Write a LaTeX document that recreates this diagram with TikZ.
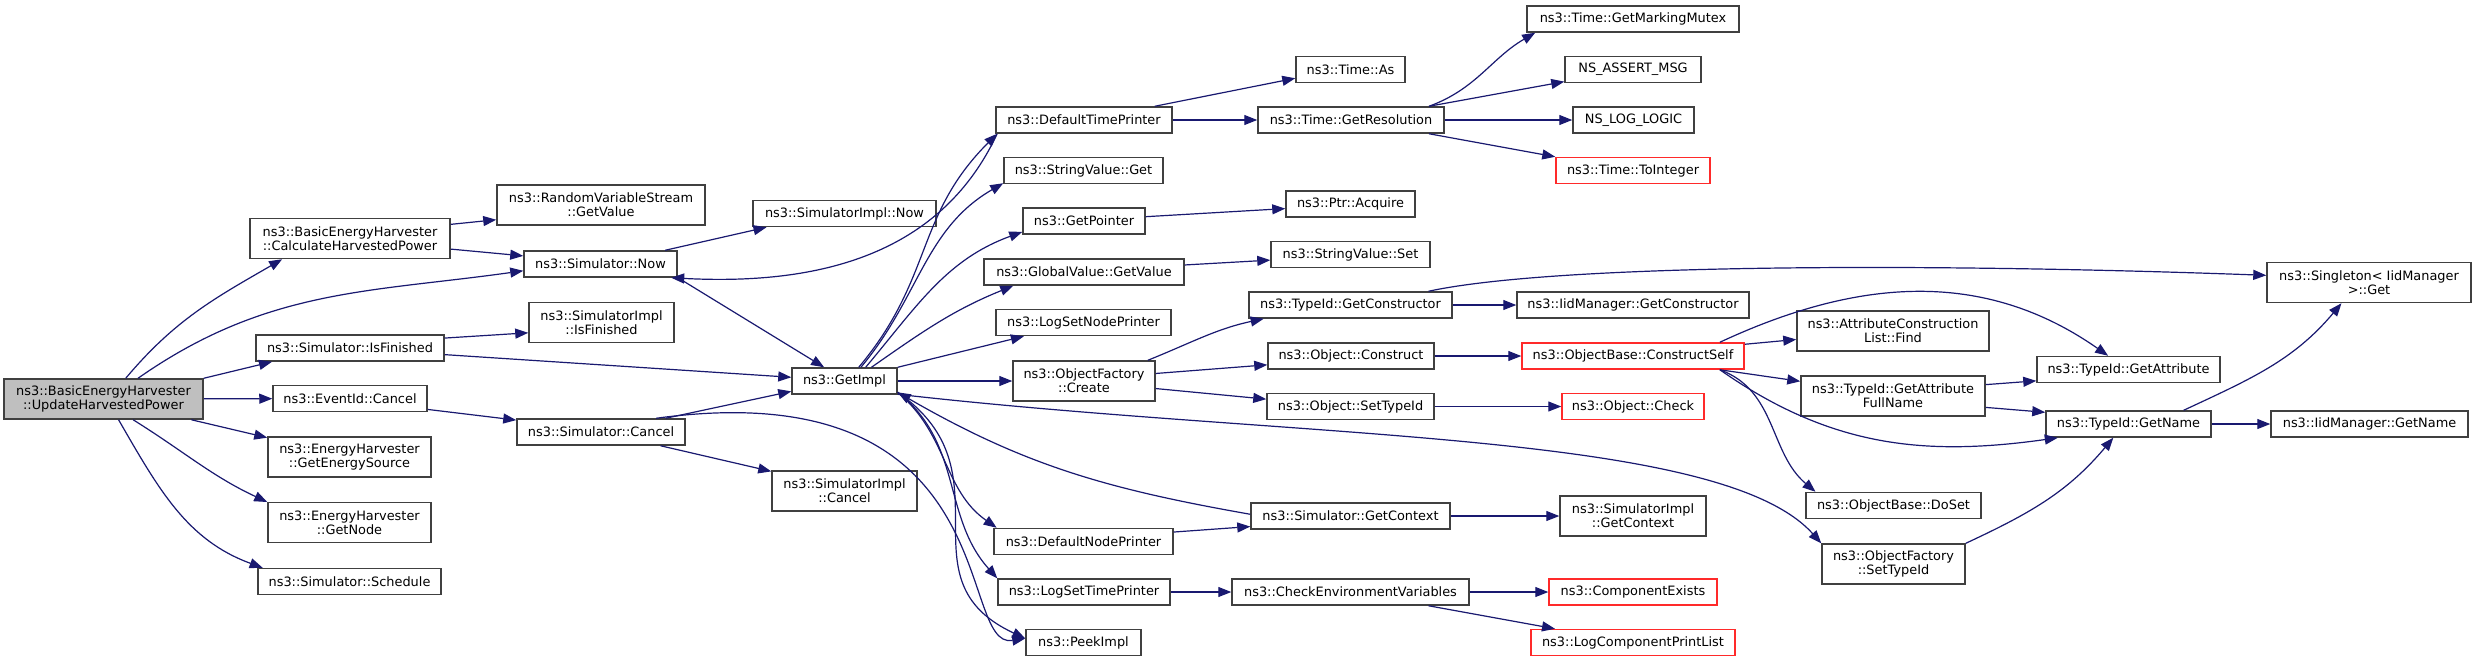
\documentclass[tikz,border=0pt]{standalone}
\usepackage{fontspec}
\setsansfont{DejaVu Sans}
\usepackage{tikz}
\usetikzlibrary{arrows.meta}
\definecolor{Edge}{HTML}{191970}
\definecolor{Frame}{HTML}{404040}
\definecolor{Trunc}{HTML}{FF2A2A}
\definecolor{Root}{HTML}{BFBFBF}

\begin{document}
\begin{tikzpicture}[x=0.5pt,y=-0.5pt, every node/.style={font=\sffamily\fontsize{6.45}{7.15}\selectfont}]
\tikzstyle{box}=[draw=Frame,fill=white,line width=0.75pt,inner sep=0pt,minimum height=13pt,align=center]
\tikzstyle{box2}=[box,minimum height=20pt]
\tikzstyle{cut}=[draw=Trunc]
\tikzstyle{call}=[-{Triangle[length=6.5pt,width=5pt]},Edge,line width=0.6pt]
\fill[white] (0,0) rectangle (2476,661);
\useasboundingbox (0,0) rectangle (2476,661);

% caller and its direct callees
\node[box2,fill=Root,minimum width=99.5pt] (uhp) at (103.5,399) {ns3::BasicEnergyHarvester\\::UpdateHarvestedPower};
\node[box2,minimum width=100pt] (chp) at (350,238.5) {ns3::BasicEnergyHarvester\\::CalculateHarvestedPower};
\node[box,minimum width=94pt] (isfin) at (350,348) {ns3::Simulator::IsFinished};
\node[box,minimum width=77pt] (evc) at (350,398.5) {ns3::EventId::Cancel};
\node[box2,minimum width=81.5pt] (gsrc) at (349.5,457) {ns3::EnergyHarvester\\::GetEnergySource};
\node[box2,minimum width=81.5pt] (gnode) at (349.5,522.5) {ns3::EnergyHarvester\\::GetNode};
\node[box,minimum width=91.5pt] (sched) at (349.5,581.5) {ns3::Simulator::Schedule};

\node[box2,minimum width=104pt] (rvs) at (601,205) {ns3::RandomVariableStream\\::GetValue};
\node[box,minimum width=76.5pt] (now) at (600.5,264) {ns3::Simulator::Now};
\node[box2,minimum width=72.5pt] (sifin) at (601.5,322.5) {ns3::SimulatorImpl\\::IsFinished};
\node[box,minimum width=84pt] (scancel) at (601,432) {ns3::Simulator::Cancel};

\node[box,minimum width=91.5pt] (sinow) at (844.5,213.5) {ns3::SimulatorImpl::Now};
\node[box,minimum width=52.5pt] (getimpl) at (844.5,381) {ns3::GetImpl};
\node[box2,minimum width=72.5pt] (sicancel) at (844.5,491) {ns3::SimulatorImpl\\::Cancel};

\node[box,minimum width=88pt] (dtp) at (1084,120) {ns3::DefaultTimePrinter};
\node[box,minimum width=79.5pt] (svget) at (1083.5,170.5) {ns3::StringValue::Get};
\node[box,minimum width=61pt] (getptr) at (1084,221) {ns3::GetPointer};
\node[box,minimum width=100pt] (gvget) at (1084,272) {ns3::GlobalValue::GetValue};
\node[box,minimum width=87.5pt] (lsnp) at (1083.5,322.5) {ns3::LogSetNodePrinter};
\node[box2,minimum width=71pt] (ofcreate) at (1084,381) {ns3::ObjectFactory\\::Create};
\node[box,minimum width=89.5pt] (dnp) at (1083.5,541.5) {ns3::DefaultNodePrinter};
\node[box,minimum width=86pt] (lstp) at (1084,592) {ns3::LogSetTimePrinter};
\node[box,minimum width=57.5pt] (peek) at (1083.5,642.5) {ns3::PeekImpl};

\node[box,minimum width=54.5pt] (tas) at (1350.5,69.5) {ns3::Time::As};
\node[box,minimum width=93pt] (tres) at (1351,120) {ns3::Time::GetResolution};
\node[box,minimum width=64.5pt] (acquire) at (1350.5,204) {ns3::Ptr::Acquire};
\node[box,minimum width=79.5pt] (svset) at (1350.5,254.5) {ns3::StringValue::Set};
\node[box,minimum width=101.5pt] (tgc) at (1350.5,305) {ns3::TypeId::GetConstructor};
\node[box,minimum width=83pt] (oconst) at (1351,356) {ns3::Object::Construct};
\node[box,minimum width=83.5pt] (osettid) at (1350.5,406.5) {ns3::Object::SetTypeId};
\node[box,minimum width=99.5pt] (sgc) at (1350.5,516) {ns3::Simulator::GetContext};
\node[box,minimum width=118.5pt] (cev) at (1350.5,592) {ns3::CheckEnvironmentVariables};

\node[box,minimum width=106pt] (mutex) at (1633,19) {ns3::Time::GetMarkingMutex};
\node[box,minimum width=68pt] (assert) at (1633,69.5) {NS\_ASSERT\_MSG};
\node[box,minimum width=60.5pt] (loglogic) at (1633.5,120) {NS\_LOG\_LOGIC};
\node[box,cut,minimum width=77pt] (toint) at (1633,170.5) {ns3::Time::ToInteger};
\node[box,minimum width=116pt] (iidgc) at (1633,305) {ns3::IidManager::GetConstructor};
\node[box,cut,minimum width=111pt] (cself) at (1633,356) {ns3::ObjectBase::ConstructSelf};
\node[box,cut,minimum width=71pt] (ocheck) at (1633,406.5) {ns3::Object::Check};
\node[box2,minimum width=73pt] (sigc) at (1633,516) {ns3::SimulatorImpl\\::GetContext};
\node[box,cut,minimum width=84pt] (cexists) at (1633,592) {ns3::ComponentExists};
\node[box,cut,minimum width=102pt] (lcpl) at (1633,642.5) {ns3::LogComponentPrintList};

\node[box2,minimum width=96pt] (acfind) at (1893,331) {ns3::AttributeConstruction\\List::Find};
\node[box2,minimum width=92pt] (gafn) at (1893,396) {ns3::TypeId::GetAttribute\\FullName};
\node[box,minimum width=87.5pt] (doset) at (1893.5,505.5) {ns3::ObjectBase::DoSet};
\node[box2,minimum width=71.5pt] (ofsettid) at (1893.5,564) {ns3::ObjectFactory\\::SetTypeId};

\node[box,minimum width=91.5pt] (tgattr) at (2128.5,369.5) {ns3::TypeId::GetAttribute};
\node[box,minimum width=82.5pt] (tgname) at (2128.5,424) {ns3::TypeId::GetName};
\node[box2,minimum width=102pt] (singleton) at (2369,282.5) {ns3::Singleton< IidManager\\>::Get};
\node[box,minimum width=98.5pt] (iidgn) at (2369.5,424) {ns3::IidManager::GetName};

% calls
\draw[call] (uhp.43) to[out=50,in=-150] (chp.-163);
\draw[call] (uhp.31) to[out=35,in=-172] (now.-175);
\draw[call] (uhp.north east) -- (isfin.-170);
\draw[call] (uhp) -- (evc);
\draw[call] (uhp) -- (gsrc);
\draw[call] (uhp.-35) to[out=-32,in=155] (gnode.166);
\draw[call] (uhp.-54) to[out=-60,in=160] (sched.171);
\draw[call] (chp.8) -- (rvs.-172);
\draw[call] (chp.-6) -- (now.174);
\draw[call] (now.12) -- (sinow.-170);
\draw[call] (now.-10) -- (getimpl.146);
\draw[call] (isfin.6) -- (sifin.-172);
\draw[call] (isfin.-4) -- (getimpl.176);
\draw[call] (evc.-8) -- (scancel.172);
\draw[call] (scancel.12) -- (getimpl.-169);
\draw[call] (scancel.-13) -- (sicancel.165);
\draw[call] (scancel.14) .. controls (1010,370) and (955,650) .. (peek.176);

\draw[call] (getimpl.44) to[out=50,in=-135,looseness=1.1] (dtp.-171);
\draw[call] (dtp.-171) to[out=-115,in=-3] (now.-11);
\draw[call] (getimpl.40) to[out=50,in=-150] (svget.-171);
\draw[call] (getimpl.33) to[out=50,in=-160] (getptr.-170);
\draw[call] (getimpl.27) to[out=35,in=-158] (gvget.-169);
\draw[call] (getimpl.north east) -- (lsnp.-167);
\draw[call] (getimpl) -- (ofcreate);
\draw[call] (getimpl.-12) to[out=-40,in=145] (dnp.171);
\draw[call] (getimpl.-12) to[out=-38,in=132] (lstp.171);
\draw[call] (getimpl.-12) to[out=-35,in=155,looseness=1.3] (peek.176);
\draw[call] (getimpl.-14) .. controls (1300,440) and (1720,430) .. (ofsettid.164);
\draw[call] (sgc.179) to[out=170,in=-30] (getimpl.-12);

\draw[call] (dtp.11) -- (tas.-171);
\draw[call] (dtp) -- (tres);
\draw[call] (tres.10) to[out=20,in=-150] (mutex.-172);
\draw[call] (tres.10) -- (assert.-170);
\draw[call] (tres) -- (loglogic);
\draw[call] (tres.-10) -- (toint.170);
\draw[call] (getptr.4) -- (acquire.-176);
\draw[call] (gvget.4) -- (svset.-176);
\draw[call] (ofcreate.18) to[out=22,in=-168] (tgc.-171);
\draw[call] (ofcreate.6) -- (oconst.-174);
\draw[call] (ofcreate.-6) -- (osettid.175);
\draw[call] (tgc) -- (iidgc);
\draw[call] (tgc.10) .. controls (1550,265) and (1900,262) .. (singleton.176);
\draw[call] (oconst) -- (cself);
\draw[call] (osettid) -- (ocheck);
\draw[call] (dnp.6) -- (sgc.-174);
\draw[call] (sgc) -- (sigc);
\draw[call] (lstp) -- (cev);
\draw[call] (cev) -- (cexists);
\draw[call] (cev.-10) -- (lcpl.170);

\draw[call] (cself.6) -- (acfind.-175);
\draw[call] (cself.-9) -- (gafn.171);
\draw[call] (cself.-9) to[out=-20,in=140] (doset.170);
\draw[call] (cself.-9) to[out=-35,in=-172] (tgname.-169);
\draw[call] (cself.9) to[out=25,in=145] (tgattr.146);
\draw[call] (gafn.7) -- (tgattr.-173);
\draw[call] (gafn.-7) -- (tgname.172);
\draw[call] (tgname) -- (iidgn);
\draw[call] (tgname.14) to[out=25,in=-130] (singleton.-143);
\draw[call] (ofsettid.16) to[out=25,in=-130] (tgname.-138);
\end{tikzpicture}
\end{document}
